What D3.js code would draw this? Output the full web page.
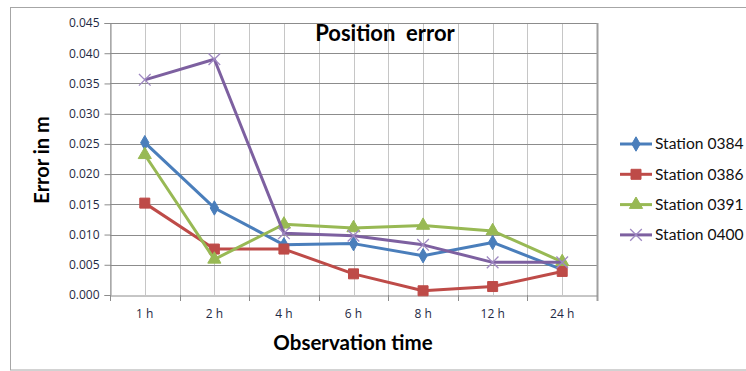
<!DOCTYPE html>
<html>
<head>
<meta charset="utf-8">
<script src="https://cdn.jsdelivr.net/npm/d3@7"></script>
<style>
  html, body { margin: 0; padding: 0; background: #fff; }
  svg { display: block; }
  text { font-family: Lato, "Open Sans", sans-serif; }
</style>
</head>
<body>
<svg id="chart" width="746" height="371"></svg>
<script>
// Observation periods (x categories)
const categories = ["1 h", "2 h", "4 h", "6 h", "8 h", "12 h", "24 h"];

// Position error in metres per station
const station0384 = [0.0252, 0.0144, 0.0083, 0.0085, 0.0065, 0.0087, 0.0042];
const station0386 = [0.0152, 0.0076, 0.0076, 0.0035, 0.0007, 0.0014, 0.0039];
const station0391 = [0.0232, 0.0059, 0.0117, 0.0111, 0.0115, 0.0106, 0.0055];
const station0400 = [0.0356, 0.0390, 0.0102, 0.0098, 0.0083, 0.0054, 0.0054];

const seriesNames = ["Station 0384", "Station 0386", "Station 0391", "Station 0400"];
const yTicks = [0, 0.005, 0.010, 0.015, 0.020, 0.025, 0.030, 0.035, 0.040, 0.045];

const series = [
  { name: seriesNames[0], values: station0384, color: "#4a7ebb", marker: "diamond" },
  { name: seriesNames[1], values: station0386, color: "#be4b48", marker: "square" },
  { name: seriesNames[2], values: station0391, color: "#98b954", marker: "triangle" },
  { name: seriesNames[3], values: station0400, color: "#7d60a0", marker: "cross" }
];

const svg = d3.select("#chart");

// outer chart frame
svg.append("rect")
  .attr("x", 10.5).attr("y", 7.5)
  .attr("width", 740).attr("height", 362.5)
  .attr("fill", "#fff").attr("stroke", "#a6a6a6").attr("stroke-width", 1);

const plot = { left: 110, right: 597, top: 23, bottom: 295 };

const x = d3.scaleBand().domain(categories).range([plot.left, plot.right]).padding(0);
const y = d3.scaleLinear().domain([0, 0.045]).range([plot.bottom, plot.top]);
const cx = d => x(d) + x.bandwidth() / 2;

const grid = svg.append("g");

// vertical gridlines at category boundaries and centres
const vLines = [];
categories.forEach(c => { vLines.push(x(c)); vLines.push(cx(c)); });
vLines.push(plot.right);
grid.selectAll("line.v").data(vLines).join("line")
  .attr("x1", d => Math.round(d) + 0.5).attr("x2", d => Math.round(d) + 0.5)
  .attr("y1", plot.top).attr("y2", plot.bottom)
  .attr("stroke", "#c6c6c6").attr("stroke-width", 1);

// horizontal gridlines
grid.selectAll("line.h").data(yTicks.slice(1)).join("line")
  .attr("x1", plot.left).attr("x2", plot.right)
  .attr("y1", d => Math.round(y(d)) + 0.5).attr("y2", d => Math.round(y(d)) + 0.5)
  .attr("stroke", "#8c8c8c").attr("stroke-width", 1);

// right border of plot area
svg.append("line")
  .attr("x1", plot.right + 0.5).attr("x2", plot.right + 0.5)
  .attr("y1", plot.top).attr("y2", plot.bottom + 6)
  .attr("stroke", "#a0a0a0").attr("stroke-width", 2);

// y axis
const yAxis = d3.axisLeft(y).tickValues(yTicks).tickFormat(d3.format(".3f")).tickSize(6).tickPadding(5);
const gy = svg.append("g").attr("transform", `translate(${plot.left + 0.5},0)`).call(yAxis);
gy.select(".domain").attr("stroke", "#8c8c8c");
gy.selectAll(".tick line").attr("stroke", "#8c8c8c");
gy.selectAll(".tick text")
  .attr("font-size", 12).attr("fill", "#1f2a44")
  .style("font-family", "'Open Sans', sans-serif");

// x axis with ticks at band boundaries
const xAxis = d3.axisBottom(x).tickSize(0).tickPadding(14);
const gx = svg.append("g").attr("transform", `translate(0,${plot.bottom + 0.5})`).call(xAxis);
gx.select(".domain").attr("stroke", "#8c8c8c");
gx.selectAll(".tick text")
  .attr("font-size", 12).attr("fill", "#1f2a44")
  .style("font-family", "'Open Sans', sans-serif");
svg.append("g").selectAll("line").data(categories).join("line")
  .attr("x1", d => Math.round(x(d)) + 0.5).attr("x2", d => Math.round(x(d)) + 0.5)
  .attr("y1", plot.bottom).attr("y2", plot.bottom + 6)
  .attr("stroke", "#8c8c8c");

// marker shapes
const symbolFor = {
  diamond: d3.symbol().type(d3.symbolDiamond).size(60),
  square: d3.symbol().type(d3.symbolSquare).size(100),
  triangle: d3.symbol().type(d3.symbolTriangle).size(75),
  cross: d3.symbol().type(d3.symbolX).size(90)
};

const line = d3.line().x((d, i) => cx(categories[i])).y(d => y(d));

function drawMarker(g, s, px, py) {
  const p = g.append("path")
    .attr("transform", `translate(${px},${py})`)
    .attr("d", symbolFor[s.marker]());
  if (s.marker === "cross") {
    p.attr("fill", "none").attr("stroke", "#9f88c2").attr("stroke-width", 1.3);
  } else {
    p.attr("fill", s.color).attr("stroke", s.color).attr("stroke-width", 1);
  }
}

series.forEach(s => {
  const g = svg.append("g");
  g.append("path").datum(s.values)
    .attr("d", line)
    .attr("fill", "none").attr("stroke", s.color)
    .attr("stroke-width", 3).attr("stroke-linejoin", "round");
  s.values.forEach((v, i) => drawMarker(g, s, cx(categories[i]), y(v)));
});

// legend
const legend = svg.append("g");
series.forEach((s, i) => {
  const ly = 144 + i * 30.3;
  const g = legend.append("g");
  g.append("line").attr("x1", 620).attr("x2", 652).attr("y1", ly).attr("y2", ly)
    .attr("stroke", s.color).attr("stroke-width", 3);
  drawMarker(g, s, 636, ly);
  g.append("text").attr("x", 655).attr("y", ly).attr("dy", "0.35em")
    .attr("font-size", 15.6).attr("fill", "#111")
    .text(s.name);
});

// title and axis titles
svg.append("text").attr("x", 385).attr("y", 41).attr("text-anchor", "middle")
  .attr("font-size", 22).attr("font-weight", "bold").attr("fill", "#000")
  .attr("xml:space", "preserve").text("Position  error");

svg.append("text").attr("transform", "translate(49,160) rotate(-90)")
  .attr("text-anchor", "middle")
  .attr("font-size", 20).attr("font-weight", "bold").attr("fill", "#000")
  .text("Error in m");

svg.append("text").attr("x", 353).attr("y", 350).attr("text-anchor", "middle")
  .attr("font-size", 20.5).attr("font-weight", "bold").attr("fill", "#000")
  .text("Observation time");
</script>
</body>
</html>
